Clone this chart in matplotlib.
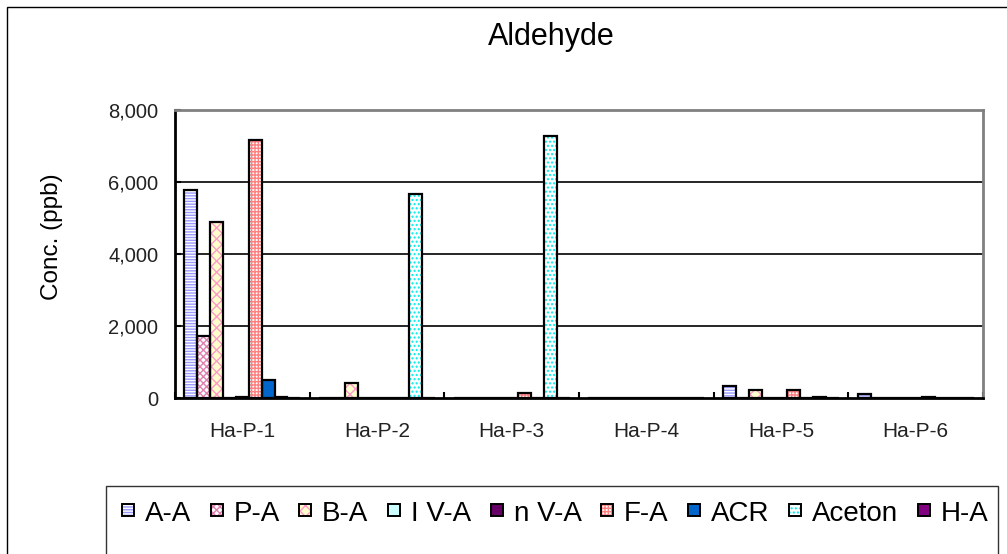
import matplotlib
matplotlib.use("Agg")
import matplotlib.pyplot as plt
import numpy as np
from matplotlib.patches import Rectangle
from matplotlib.ticker import FuncFormatter, FixedLocator

plt.rcParams['font.family'] = ['Liberation Sans', 'DejaVu Sans']
plt.rcParams['hatch.linewidth'] = 1.0

# ---- data ----
categories = ["Ha-P-1", "Ha-P-2", "Ha-P-3", "Ha-P-4", "Ha-P-5", "Ha-P-6"]
series_names = ["A-A", "P-A", "B-A", "I V-A", "n V-A", "F-A", "ACR", "Aceton", "H-A"]
aa = [5780, 0, 0, 0, 320, 110]
pa = [1720, 0, 0, 0, 0, 0]
ba = [4880, 420, 0, 0, 210, 0]
iva = [0, 0, 0, 0, 0, 0]
nva = [40, 0, 0, 0, 0, 0]
fa = [7160, 0, 150, 0, 210, 40]
acr = [490, 0, 0, 0, 0, 0]
aceton = [40, 5660, 7270, 0, 40, 0]
ha = [0, 0, 0, 0, 0, 0]
series_values = [aa, pa, ba, iva, nva, fa, acr, aceton, ha]
y_ticks = [0, 2000, 4000, 6000, 8000]

# ---- styles: (fill colour, hatch colour, hatch) ----
styles = [
    ("white", "#9999FF", "------"),
    ("white", "#E080B0", "xxxxx"),
    ("#FFFFCC", "#FF99CC", "xxx"),
    ("#CCFFFF", "#CCFFFF", ""),
    ("#660066", "#660066", ""),
    ("white", "#FF8080", "+++++"),
    ("#0066CC", "#0066CC", ""),
    ("white", "#00EEEE", "...."),
    ("#800080", "#800080", ""),
]


class Swatch:
    def __init__(self, fc, hc, hatch):
        self.fc, self.hc, self.hatch = fc, hc, hatch


class SwatchHandler:
    def __init__(self, size_px=12, dy_px=0):
        self.size_px = size_px
        self.dy_px = dy_px

    def legend_artist(self, legend, orig_handle, fontsize, handlebox):
        s = self.size_px * 72 / 100.0
        x0, y0 = handlebox.xdescent, handlebox.ydescent
        w, h = handlebox.width, handlebox.height
        cx = w / 2 - x0
        cy = h / 2 - y0 + self.dy_px * 72 / 100.0
        r1 = Rectangle((cx - s / 2, cy - s / 2), s, s, facecolor=orig_handle.fc,
                       edgecolor=orig_handle.hc, hatch=orig_handle.hatch, linewidth=0)
        r2 = Rectangle((cx - s / 2, cy - s / 2), s, s, facecolor='none',
                       edgecolor='black', linewidth=1.4)
        handlebox.add_artist(r1)
        handlebox.add_artist(r2)
        return r2


W, H = 1007, 554
fig = plt.figure(figsize=(W / 100, H / 100), dpi=100)
ax = fig.add_axes([175 / W, 1 - 398 / H, (983 - 175) / W, (398 - 110) / H])

x = np.arange(len(categories))
n = len(series_names)
bw = 0.0958
handles = []
for i, (name, vals) in enumerate(zip(series_names, series_values)):
    fc, hc, hatch = styles[i]
    pos = x + (i - (n - 1) / 2) * bw
    ax.bar(pos, vals, bw, facecolor=fc, edgecolor=hc, hatch=hatch, linewidth=0, zorder=3)
    ax.bar(pos, vals, bw, facecolor="none", edgecolor="black", linewidth=1.6, zorder=4)
    handles.append(Swatch(fc, hc, hatch))

ax.set_xlim(-0.5, len(categories) - 0.5)
ax.set_ylim(0, 8000)
ax.set_yticks(y_ticks)
ax.yaxis.set_major_formatter(FuncFormatter(lambda v, p: f"{int(v):,}"))
ax.set_xticks(x)
ax.set_xticklabels(categories)
ax.xaxis.set_minor_locator(FixedLocator(np.arange(-0.5, len(categories), 1.0)))

ax.tick_params(axis='y', direction='in', length=4, width=1.5, labelsize=14.5, pad=12, colors='black', labelcolor='#222222')
ax.tick_params(axis='x', which='major', length=0, labelsize=15, pad=17, labelcolor='#222222')
ax.tick_params(axis='x', which='minor', direction='in', length=4, width=1.5)

for yv in y_ticks[1:-1]:
    ax.axhline(yv, color='black', linewidth=1.2, zorder=1)

ax.spines['left'].set_linewidth(2)
ax.spines['bottom'].set_linewidth(2)
ax.spines['top'].set_color('#808080')
ax.spines['top'].set_linewidth(2)
ax.spines['right'].set_color('#808080')
ax.spines['right'].set_linewidth(2)

fig.text(551 / W, 1 - 37 / H, "Aldehyde", ha='center', va='center', fontsize=22)
fig.text(52 / W, 1 - 237 / H, "Conc. (ppb)", ha='center', va='center', rotation=90, fontsize=17.5)

# outer chart frame
fig.add_artist(Rectangle((7 / W, -0.1), 1.2, 1 - 7 / H + 0.1, transform=fig.transFigure,
                         facecolor='none', edgecolor='black', linewidth=1.0))
# legend frame
fig.add_artist(Rectangle((106 / W, -0.1), (998 - 106) / W, 1 - 486 / H + 0.1, transform=fig.transFigure,
                         facecolor='none', edgecolor='#333333', linewidth=1.0))

fig.legend(handles, series_names, loc='center', bbox_to_anchor=(555 / W, 1 - 514 / H),
           ncol=n, frameon=False, fontsize=20, handlelength=0.45, handleheight=0.7,
           handletextpad=0.38, columnspacing=0.7, borderpad=0,
           handler_map={Swatch: SwatchHandler(12, 1)})

fig.savefig("out.png", dpi=100)
